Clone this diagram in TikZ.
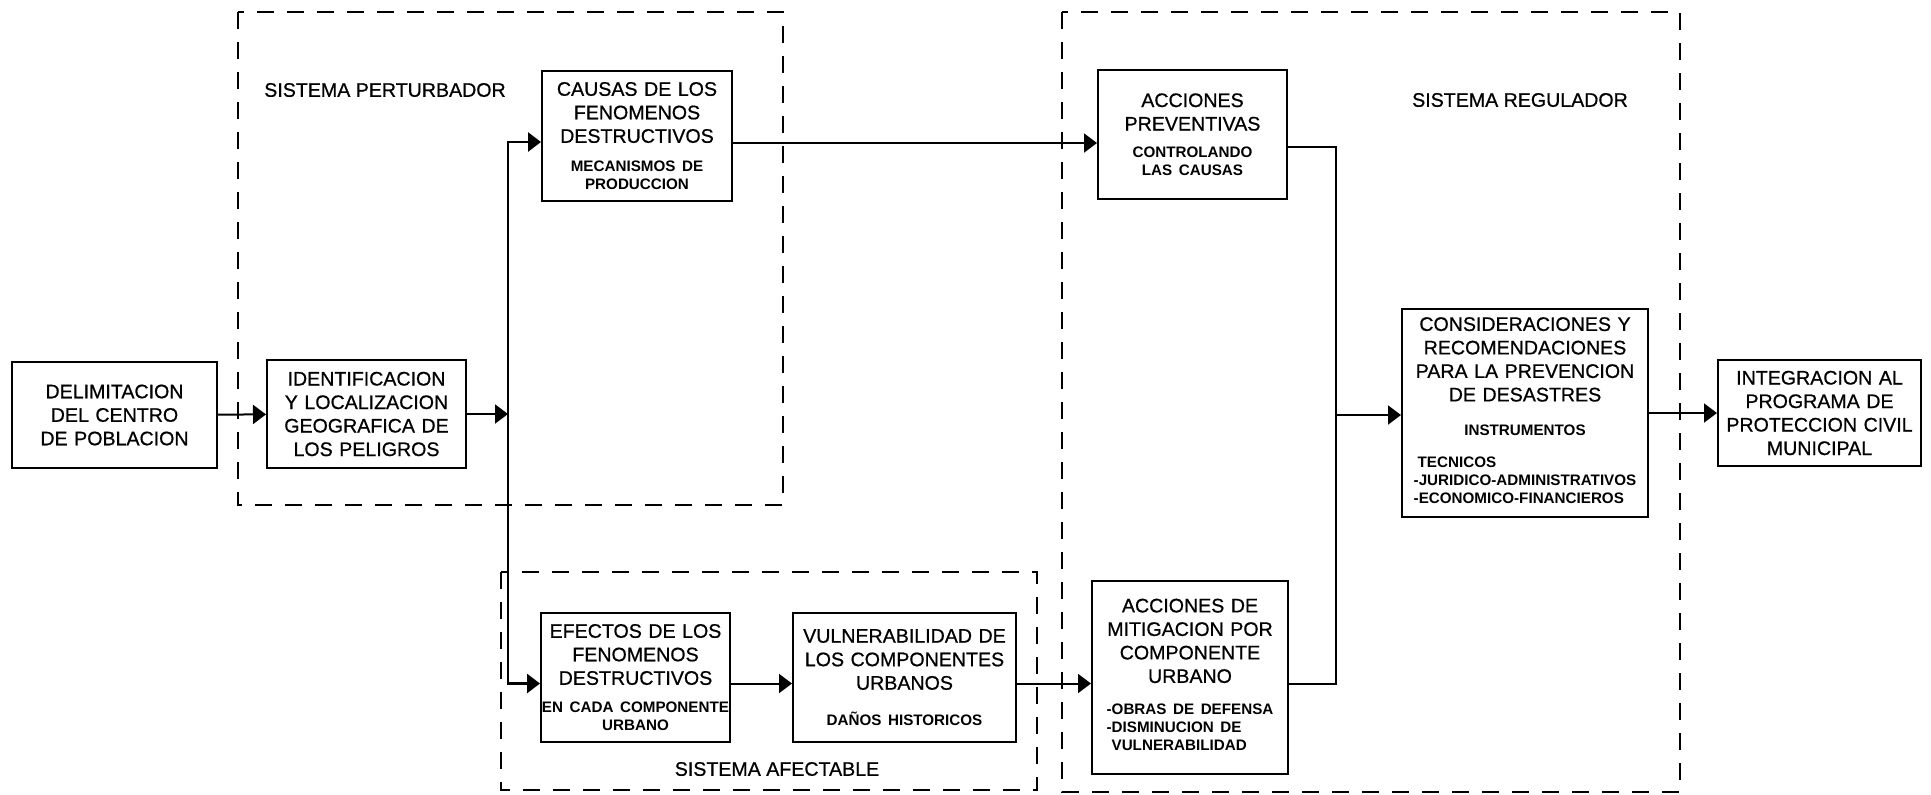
\documentclass[tikz,border=0pt]{standalone}
\usepackage{fontspec}
\setmainfont{Liberation Sans}
\newfontfamily\boxfont{Liberation Sans}[FakeBold=0.7]
\usetikzlibrary{arrows.meta}

\newcommand{\bigtxt}{\boxfont\fontsize{9.8}{11.75}\selectfont}
\newcommand{\smalltxt}{\rmfamily\fontsize{7.6}{9}\selectfont\bfseries}

\begin{document}
\begin{tikzpicture}[x = 0.5pt, y = -0.5pt]
\tikzstyle{BoxStyle}=[
draw,
line width = 1pt,
inner sep = 0pt,
align = center,
font = \bigtxt]
\tikzstyle{FrameStyle}=[line width = 1.25pt, dash pattern = on 8.5pt off 6.5pt]
\tikzstyle{LabelStyle}=[font = \bigtxt, inner sep = 0pt]
\tikzstyle{LineStyle}=[line width = 1pt]
\tikzstyle{ArrowStyle}=[line width = 1pt, -{Triangle[length = 6.5pt, width = 9.5pt]}]
\useasboundingbox (0,0) rectangle (1931,794);

% dashed frames
\draw[FrameStyle] (238,12) rectangle (783,505);
\draw[FrameStyle] (501,572) rectangle (1037,790);
\draw[FrameStyle] (1062,12) rectangle (1680,792);
\node[LabelStyle] (perturbador) at (385,90) {SISTEMA PERTURBADOR};
\node[LabelStyle] (regulador) at (1520,100) {SISTEMA REGULADOR};
\node[LabelStyle] (afectable) at (777,769) {SISTEMA AFECTABLE};

% boxes
\node[BoxStyle, minimum width = 102.5pt, minimum height = 53pt, text width = 100pt] (delim) at (114.5,415)
{DELIMITACION\\DEL CENTRO\\DE POBLACION};
\node[BoxStyle, minimum width = 99.5pt, minimum height = 54pt, text width = 97pt] (ident) at (366.5,414)
{IDENTIFICACION\\Y LOCALIZACION\\GEOGRAFICA DE\\LOS PELIGROS};
\node[BoxStyle, minimum width = 95pt, minimum height = 65pt, text width = 93pt] (causas) at (637,136)
{{CAUSAS DE LOS\\FENOMENOS\\DESTRUCTIVOS\par}\vspace{5.5pt}{\smalltxt MECANISMOS DE\\PRODUCCION\par}};
\node[BoxStyle, minimum width = 94.5pt, minimum height = 64.5pt, text width = 92pt] (prev) at (1192.5,134.5)
{{ACCIONES\\PREVENTIVAS\par}\vspace{4.5pt}{\smalltxt CONTROLANDO\\LAS CAUSAS\par}};
\node[BoxStyle, minimum width = 94.5pt, minimum height = 64.5pt, text width = 94pt] (efectos) at (635.5,677.5)
{{EFECTOS DE LOS\\FENOMENOS\\DESTRUCTIVOS\par}\vspace{5pt}{\smalltxt EN CADA COMPONENTE\\URBANO\par}};
\node[BoxStyle, minimum width = 111.5pt, minimum height = 64.5pt, text width = 109pt] (vuln) at (904.5,677.5)
{{VULNERABILIDAD DE\\LOS COMPONENTES\\URBANOS\par}\vspace{9pt}{\smalltxt DAÑOS HISTORICOS\par}};
\node[BoxStyle, minimum width = 98pt, minimum height = 96.5pt, text width = 96pt] (mitig) at (1190,677.5)
{{ACCIONES DE\\MITIGACION POR\\COMPONENTE\\URBANO\par}\vspace{7pt}{\smalltxt\begin{tabular}[t]{@{}l@{}}-OBRAS DE DEFENSA\\-DISMINUCION DE\\\hspace{2.5pt}VULNERABILIDAD\end{tabular}\par}\vspace{4pt}};
\node[BoxStyle, minimum width = 123pt, minimum height = 104pt, text width = 121pt] (consid) at (1525,413)
{{CONSIDERACIONES Y\\RECOMENDACIONES\\PARA LA PREVENCION\\DE DESASTRES\par}\vspace{8pt}{\smalltxt INSTRUMENTOS\par}\vspace{7pt}{\smalltxt\begin{tabular}[t]{@{}l@{}}\hspace{2pt}TECNICOS\\-JURIDICO-ADMINISTRATIVOS\\-ECONOMICO-FINANCIEROS\end{tabular}\par}};
\node[BoxStyle, minimum width = 101.5pt, minimum height = 53pt, text width = 101pt] (integ) at (1819.5,413)
{INTEGRACION AL\\PROGRAMA DE\\PROTECCION CIVIL\\MUNICIPAL};

% connectors
\coordinate (split) at (508,414);
\coordinate (merge) at (1336,415);
\draw[ArrowStyle] (delim) -- (ident);
\draw[ArrowStyle] (ident) -- (split);
\draw[ArrowStyle, line width = 1.4pt] (split) |- ([yshift = -3pt]causas.west);
\draw[ArrowStyle, line width = 1.4pt] (split) |- ([yshift = -3pt]efectos.west);
\draw[ArrowStyle] ([yshift = -3.5pt]causas.east) coordinate (top) -- (top -| prev.west);
\draw[ArrowStyle] ([yshift = -3pt]efectos.east) coordinate (low) -- (low -| vuln.west);
\draw[ArrowStyle] (low -| vuln.east) -- (low -| mitig.west);
\draw[LineStyle] ([yshift = -6.25pt]prev.east) -| (merge);
\draw[LineStyle] (low -| mitig.east) -| (merge);
\draw[ArrowStyle] (merge) -- (merge -| consid.west);
\draw[ArrowStyle] (consid) -- (integ);
\end{tikzpicture}
\end{document}
